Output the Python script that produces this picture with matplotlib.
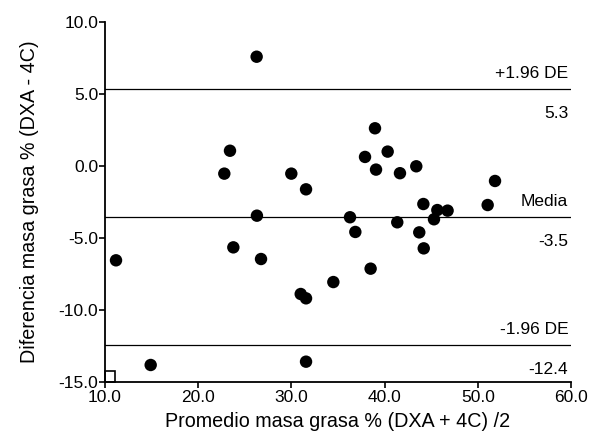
import matplotlib
matplotlib.use("Agg")
import matplotlib.pyplot as plt
from matplotlib.patches import Rectangle
from matplotlib.ticker import FormatStrFormatter

plt.rcParams["font.family"] = ["Liberation Sans", "DejaVu Sans"]

# promedio (DXA + 4C)/2 y diferencia (DXA - 4C)
promedio = [26.27, 23.41, 22.8, 29.99, 31.57, 26.3,
            23.77, 11.18, 26.74, 31.0, 31.57, 34.5, 14.9, 31.57,
            38.97, 37.9, 40.33, 39.08, 41.65, 43.4, 51.85, 44.16,
            45.66, 46.76, 51.06, 36.29, 45.3, 41.36, 36.86, 43.72,
            44.2, 38.5]
diferencia = [7.59, 1.06, -0.53, -0.53, -1.62, -3.45,
              -5.65, -6.55, -6.46, -8.89, -9.19, -8.06, -13.82, -13.59,
              2.62, 0.63, 1.0, -0.25, -0.5, -0.02, -1.04, -2.64,
              -3.06, -3.1, -2.71, -3.56, -3.7, -3.91, -4.58, -4.61,
              -5.72, -7.13]

media = -3.52
lim_sup = 5.38
lim_inf = -12.42
etiquetas = [("+1.96 DE", "5.3", lim_sup), ("Media", "-3.5", media), ("-1.96 DE", "-12.4", lim_inf)]

fig = plt.figure(figsize=(5.89, 4.36), dpi=100)
ax = fig.add_axes([0.1783, 0.1239, 0.7911, 0.8256])

ax.scatter(promedio, diferencia, s=80, color="black", edgecolors="none", zorder=3)

for arriba, abajo, val in etiquetas:
    ax.axhline(val, color="black", linewidth=0.9)
    ax.annotate(arriba, xy=(1, val), xycoords=("axes fraction", "data"),
                xytext=(-2, 11), textcoords="offset points",
                ha="right", va="center", fontsize=12.5)
    ax.annotate(abajo, xy=(1, val), xycoords=("axes fraction", "data"),
                xytext=(-2, -18), textcoords="offset points",
                ha="right", va="center", fontsize=12.5)

ax.set_xlim(10, 60)
ax.set_ylim(-15, 10)
ax.set_xticks([10, 20, 30, 40, 50, 60])
ax.set_yticks([-15, -10, -5, 0, 5, 10])
ax.xaxis.set_major_formatter(FormatStrFormatter("%.1f"))
ax.yaxis.set_major_formatter(FormatStrFormatter("%.1f"))

for s in ["top", "right"]:
    ax.spines[s].set_visible(False)
for s in ["left", "bottom"]:
    ax.spines[s].set_linewidth(1.3)
ax.tick_params(axis="both", direction="out", length=4, width=1.2,
               labelsize=12.5)
ax.tick_params(axis="x", pad=2)
ax.tick_params(axis="y", pad=1)

# pequeño cuadro en el origen
ax.add_patch(Rectangle((0, 0), 0.021, 0.03, transform=ax.transAxes,
                       fill=False, edgecolor="black", linewidth=1.2,
                       clip_on=False))

ax.set_xlabel("Promedio masa grasa % (DXA + 4C) /2", fontsize=14.2, labelpad=5)
ax.set_ylabel("Diferencia masa grasa % (DXA - 4C)", fontsize=14.2, labelpad=14)

fig.savefig("out.png", dpi=100)
